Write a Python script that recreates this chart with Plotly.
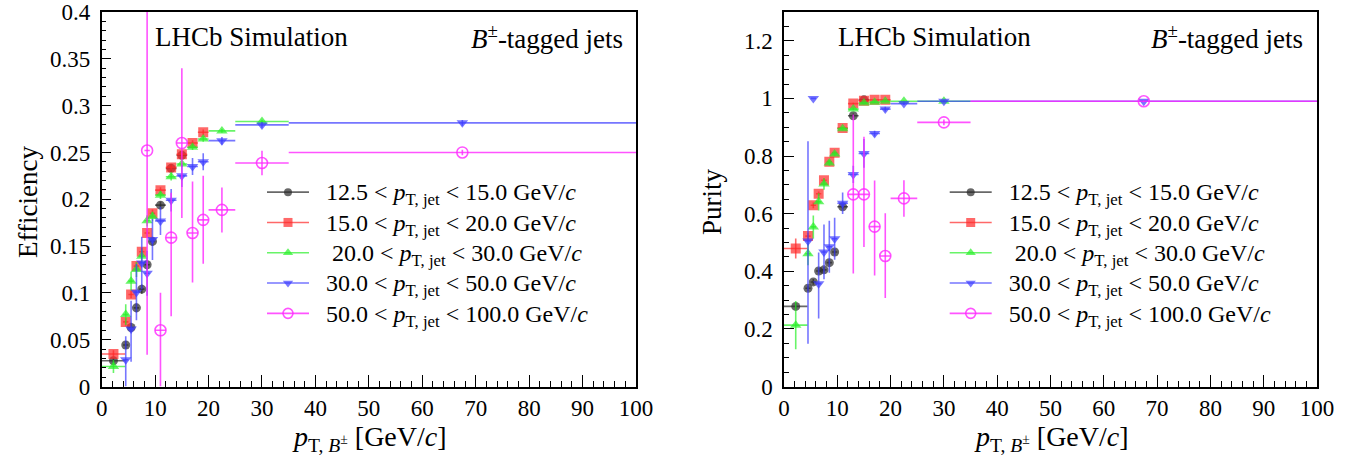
import plotly.graph_objects as go

W, H = 1359, 468

# ---------------- data ----------------
labels = [
    "12.5 &lt; <i>p</i><sub>T, jet</sub> &lt; 15.0 GeV/<i>c</i>",
    "15.0 &lt; <i>p</i><sub>T, jet</sub> &lt; 20.0 GeV/<i>c</i>",
    " 20.0 &lt; <i>p</i><sub>T, jet</sub> &lt; 30.0 GeV/<i>c</i>",
    "30.0 &lt; <i>p</i><sub>T, jet</sub> &lt; 50.0 GeV/<i>c</i>",
    "50.0 &lt; <i>p</i><sub>T, jet</sub> &lt; 100.0 GeV/<i>c</i>",
]
bin_x = [2.2, 4.5, 5.5, 6.5, 7.5, 8.5, 9.5, 11, 13, 15, 17, 19, 22.5, 30, 67.5]
bin_hw = [2.2, 0.5, 0.5, 0.5, 0.5, 0.5, 0.5, 1, 1, 1, 1, 1, 2.5, 5, 32.5]

# Efficiency (left)
eff_black = [0.0275, 0.0443, 0.063, 0.084, 0.104, 0.130, 0.155, 0.1937, 0.233, 0.247]
eff_black_err = [0.003, 0.004, 0.005, 0.005, 0.005, 0.005, 0.005, 0.004, 0.004, 0.004]
eff_red = [0.0347, 0.069, 0.0983, 0.1286, 0.144, 0.164, 0.185, 0.2097, 0.234, 0.248, 0.260, 0.2716]
eff_red_err = [0.004, 0.004, 0.004, 0.004, 0.004, 0.004, 0.004, 0.003, 0.003, 0.003, 0.003, 0.003]
eff_green = [0.0214, 0.0768, 0.1125, 0.125, 0.139, 0.177, 0.1816, 0.2044, 0.224, 0.2376, 0.2555, 0.2644, 0.273, 0.283]
eff_green_err = [0.007, 0.011, 0.01, 0.008, 0.007, 0.006, 0.005, 0.004, 0.004, 0.003, 0.003, 0.003, 0.002, 0.002]
eff_blue = [0.0286, 0.0615, 0.1008, 0.132, 0.121, 0.157, 0.1769, 0.199, 0.225, 0.235, 0.240, 0.2626, 0.2794, 0.2816]
eff_blue_up = [0.025, 0.03, 0.03, 0.028, 0.024, 0.022, 0.015, 0.012, 0.012, 0.009, 0.009, 0.004, 0.003, 0.003]
eff_blue_dn = [0.0286, 0.035, 0.03, 0.028, 0.024, 0.022, 0.015, 0.012, 0.012, 0.009, 0.009, 0.004, 0.003, 0.003]
eff_mag = [0.252, 0.060, 0.159, 0.260, 0.164, 0.178, 0.1886, 0.2387, 0.250]
eff_mag_up = [0.20, 0.040, 0.048, 0.080, 0.055, 0.047, 0.024, 0.013, 0.003]
eff_mag_dn = [0.218, 0.060, 0.084, 0.080, 0.053, 0.047, 0.024, 0.013, 0.003]

# Purity (right)
pur_black = [0.278, 0.341, 0.363, 0.401, 0.405, 0.430, 0.467, 0.624, 0.940, 0.995]
pur_black_err = [0.012, 0.01, 0.01, 0.01, 0.01, 0.01, 0.01, 0.01, 0.008, 0.004]
pur_red = [0.479, 0.522, 0.629, 0.669, 0.716, 0.780, 0.811, 0.897, 0.982, 0.992, 0.995, 0.995]
pur_red_err = [0.035, 0.012, 0.01, 0.008, 0.008, 0.006, 0.005, 0.004, 0.003, 0.002, 0.002, 0.002]
pur_green = [0.213, 0.461, 0.554, 0.641, 0.703, 0.776, 0.807, 0.895, 0.963, 0.984, 0.987, 0.990, 0.990, 0.990]
pur_green_err = [0.084, 0.04, 0.04, 0.03, 0.02, 0.01, 0.008, 0.006, 0.004, 0.003, 0.003, 0.002, 0.002, 0.002]
pur_blue = [0.505, 1.0, 0.357, 0.467, 0.485, 0.513, 0.636, 0.736, 0.809, 0.878, 0.963, 0.982, 0.990, 0.990]
pur_blue_up = [0.346, 0.0, 0.108, 0.095, 0.09, 0.073, 0.037, 0.03, 0.05, 0.01, 0.008, 0.005, 0.003, 0.002]
pur_blue_dn = [0.357, 0.0, 0.121, 0.095, 0.09, 0.073, 0.037, 0.03, 0.05, 0.01, 0.008, 0.005, 0.003, 0.002]
pur_mag = [0.667, 0.667, 0.555, 0.453, 0.653, 0.917, 0.990]
pur_mag_up = [0.277, 0.20, 0.16, 0.148, 0.063, 0.01, 0.003]
pur_mag_dn = [0.275, 0.183, 0.17, 0.146, 0.064, 0.01, 0.003]

# bin index ranges for each series
idx_black = list(range(0, 10))
idx_red = list(range(0, 12))
idx_green = list(range(0, 14))
idx_blue = list(range(1, 15))
idx_mag_eff = [5] + list(range(7, 15))
idx_mag_pur = list(range(8, 15))

colors = ["rgba(40,40,40,0.7)", "rgba(255,40,40,0.7)", "rgba(40,240,40,0.7)",
          "rgba(60,60,255,0.7)", "rgba(255,40,255,0.8)"]
symbols = ["circle", "square", "triangle-up", "triangle-down", "circle-open"]
sizes = [9, 10, 10, 10, 11]

FONT = "Liberation Serif, Times New Roman, DejaVu Serif, serif"

def px(x):
    return x / W

def py(y):
    return 1 - y / H

fig = go.Figure()

def add_series(xa, ya, idx, vals, up, dn, k):
    xs = [bin_x[i] for i in idx]
    hw = [bin_hw[i] for i in idx]
    fig.add_trace(go.Scatter(
        x=xs, y=vals, mode="markers", xaxis=xa, yaxis=ya,
        marker=dict(symbol=symbols[k], size=sizes[k], color=colors[k],
                    line=dict(width=1.6 if k == 4 else 0, color=colors[k])),
        error_x=dict(type="data", array=hw, symmetric=True, width=0, thickness=1.6, color=colors[k]),
        error_y=dict(type="data", array=up, arrayminus=dn, symmetric=False, width=0, thickness=1.6, color=colors[k]),
        showlegend=False,
    ))

add_series("x", "y", idx_black, eff_black, eff_black_err, eff_black_err, 0)
add_series("x", "y", idx_red, eff_red, eff_red_err, eff_red_err, 1)
add_series("x", "y", idx_green, eff_green, eff_green_err, eff_green_err, 2)
add_series("x", "y", idx_blue, eff_blue, eff_blue_up, eff_blue_dn, 3)
add_series("x", "y", idx_mag_eff, eff_mag, eff_mag_up, eff_mag_dn, 4)

add_series("x2", "y2", idx_black, pur_black, pur_black_err, pur_black_err, 0)
add_series("x2", "y2", idx_red, pur_red, pur_red_err, pur_red_err, 1)
add_series("x2", "y2", idx_green, pur_green, pur_green_err, pur_green_err, 2)
add_series("x2", "y2", idx_blue, pur_blue, pur_blue_up, pur_blue_dn, 3)
add_series("x2", "y2", idx_mag_pur, pur_mag, pur_mag_up, pur_mag_dn, 4)

# legend entries
for lg, xa, ya in [("legend", "x", "y"), ("legend2", "x2", "y2")]:
    for k in range(5):
        name = '<span style="font-size:24px">&nbsp;&nbsp;' + labels[k].replace(" 20.0", "&nbsp;20.0") + "</span>"
        fig.add_trace(go.Scatter(
            x=[None], y=[None], mode="lines+markers", xaxis=xa, yaxis=ya,
            name=name, legend=lg,
            line=dict(color=colors[k], width=1.6),
            marker=dict(symbol=symbols[k], size=sizes[k] - 1, color=colors[k],
                        line=dict(width=1.6 if k == 4 else 0, color=colors[k])),
        ))

yd = [py(386.5), py(12)]
common_x = dict(range=[0, 100], showline=True, linecolor="black", linewidth=1.5, mirror=True,
                ticks="inside", ticklen=12, tickwidth=1, tickcolor="black", dtick=10, tick0=0,
                minor=dict(ticks="inside", ticklen=6, dtick=2, tickcolor="black"),
                showgrid=False, zeroline=False, automargin=False, ticklabeloverflow="allow",
                tickfont=dict(family=FONT, size=23, color="black"))
common_y = dict(showline=True, linecolor="black", linewidth=1.5, mirror=True,
                ticks="inside", ticklen=10, tickcolor="black", tick0=0,
                showgrid=False, zeroline=False, automargin=False, ticklabeloverflow="allow",
                ticklabelstandoff=5,
                tickfont=dict(family=FONT, size=23, color="black"))

fig.update_layout(
    width=W, height=H, margin=dict(l=0, r=0, t=0, b=0, autoexpand=False),
    paper_bgcolor="white", plot_bgcolor="white",
    showlegend=True,
    xaxis=dict(domain=[px(101.7), px(636)], anchor="y", **common_x),
    xaxis2=dict(domain=[px(784), px(1317)], anchor="y2", **common_x),
    yaxis=dict(domain=yd, anchor="x", range=[0, 0.4], dtick=0.05,
               minor=dict(ticks="inside", ticklen=5, dtick=0.01, tickcolor="black"), **common_y),
    yaxis2=dict(domain=yd, anchor="x2", range=[0, 1.3], dtick=0.2,
                minor=dict(ticks="inside", ticklen=5, dtick=0.05, tickcolor="black"), **common_y),
    legend=dict(x=px(262), y=py(172), xanchor="left", yanchor="top", bgcolor="rgba(0,0,0,0)",
                font=dict(family=FONT, size=21, color="black"), itemwidth=42, tracegroupgap=0),
    legend2=dict(x=px(944.7), y=py(172), xanchor="left", yanchor="top", bgcolor="rgba(0,0,0,0)",
                 font=dict(family=FONT, size=21, color="black"), itemwidth=42, tracegroupgap=0),
)

ann_font = dict(family=FONT, size=27, color="black")
for x0 in (153, 836):
    fig.add_annotation(xref="paper", yref="paper", x=px(x0), y=py(37), text="LHCb Simulation",
                       showarrow=False, font=ann_font, xanchor="left", yanchor="middle")
for x1 in (625, 1305):
    fig.add_annotation(xref="paper", yref="paper", x=px(x1), y=py(37),
                       text="<i>B</i><sup>±</sup>-tagged jets",
                       showarrow=False, font=ann_font, xanchor="right", yanchor="middle")
for xc in (369, 1051):
    fig.add_annotation(xref="paper", yref="paper", x=px(xc), y=py(438),
                       text="<i>p</i><sub>T, <i>B</i><sup>±</sup></sub> [GeV/<i>c</i>]",
                       showarrow=False, font=dict(family=FONT, size=28, color="black"),
                       xanchor="center", yanchor="middle")
fig.add_annotation(xref="paper", yref="paper", x=px(28), y=py(202), text="Efficiency", textangle=-90,
                   showarrow=False, font=ann_font, xanchor="center", yanchor="middle")
fig.add_annotation(xref="paper", yref="paper", x=px(712), y=py(202), text="Purity", textangle=-90,
                   showarrow=False, font=ann_font, xanchor="center", yanchor="middle")

fig.write_html("out.html", config={"displayModeBar": False},
               post_script="document.body.style.margin='0px';")
